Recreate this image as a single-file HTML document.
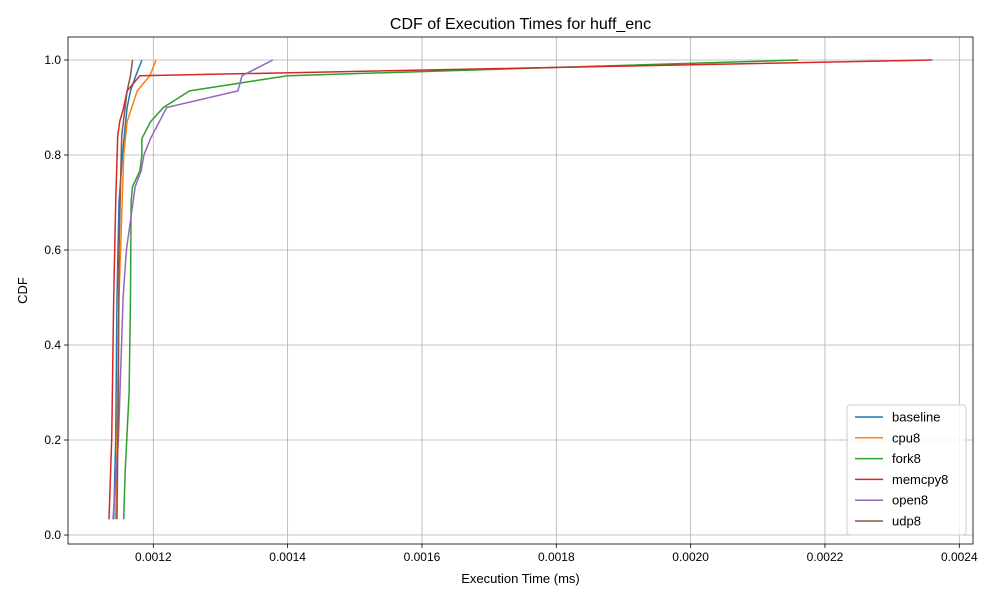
<!DOCTYPE html>
<html><head><meta charset="utf-8"><style>
body{margin:0;background:#fff;font-family:"Liberation Sans","DejaVu Sans",sans-serif}
</style></head><body>
<svg id="chart" width="1000" height="600" xmlns="http://www.w3.org/2000/svg"></svg>
<script>
const seriesNames=["baseline","cpu8","fork8","memcpy8","open8","udp8"];
const colors=["#1f77b4","#ff7f0e","#2ca02c","#d62728","#9467bd","#8c564b"];
const baselineX=[0.001141,0.001144,0.001146,0.001149,0.001154,0.001161,0.001166,0.001174,0.001183];
const baselineY=[0.033,0.2,0.5,0.7,0.8,0.9,0.935,0.967,1.0];
const cpu8X=[0.001144,0.001146,0.001149,0.001156,0.001161,0.001176,0.001195,0.001204];
const cpu8Y=[0.033,0.2,0.5,0.8,0.87,0.935,0.967,1.0];
const fork8X=[0.001156,0.001158,0.001164,0.001166,0.001167,0.001169,0.00118,0.001183,0.001183,0.001196,0.001215,0.001254,0.0014,0.00216];
const fork8Y=[0.033,0.13,0.3,0.5,0.7,0.733,0.767,0.8,0.835,0.87,0.9,0.935,0.967,1.0];
const memcpy8X=[0.001134,0.001138,0.001141,0.001144,0.001147,0.00115,0.001156,0.001161,0.00118,0.00236];
const memcpy8Y=[0.033,0.2,0.5,0.7,0.84,0.87,0.9,0.935,0.967,1.0];
const open8X=[0.00114,0.001148,0.001155,0.00116,0.001173,0.001182,0.001186,0.001196,0.00122,0.001326,0.001332,0.001378];
const open8Y=[0.033,0.2,0.5,0.6,0.733,0.767,0.8,0.835,0.9,0.935,0.967,1.0];
const udp8X=[0.001146,0.001148,0.001149,0.001153,0.001161,0.001166,0.001169];
const udp8Y=[0.033,0.3,0.6,0.84,0.935,0.967,1.0];
const allX=[baselineX,cpu8X,fork8X,memcpy8X,open8X,udp8X];
const allY=[baselineY,cpu8Y,fork8Y,memcpy8Y,open8Y,udp8Y];
const xTicks=[0.0012,0.0014,0.0016,0.0018,0.0020,0.0022,0.0024];
const xTickLabels=["0.0012","0.0014","0.0016","0.0018","0.0020","0.0022","0.0024"];
const yTicks=[0,0.2,0.4,0.6,0.8,1.0];
const yTickLabels=["0.0","0.2","0.4","0.6","0.8","1.0"];

const L=68,R=973,T=37,B=544;
const xmin=0.001073,xmax=0.0024204,ymin=-0.0189,ymax=1.0484;
const sx=v=>L+(v-xmin)/(xmax-xmin)*(R-L);
const sy=v=>B-(v-ymin)/(ymax-ymin)*(B-T);
const svg=document.getElementById('chart');
const NS="http://www.w3.org/2000/svg";
function mk(tag,attrs,parent){const e=document.createElementNS(NS,tag);for(const k in attrs)e.setAttribute(k,attrs[k]);(parent||svg).appendChild(e);return e;}
function txt(s,attrs){const e=mk('text',attrs);e.textContent=s;return e;}

xTicks.forEach((t,i)=>{const x=sx(t);
 const g=mk('line',{x1:x,x2:x,y1:T,y2:B,stroke:'#b0b0b0','stroke-width':0.8});
 
 
 mk('line',{x1:x,x2:x,y1:B,y2:B+4,stroke:'#000','stroke-width':0.8});
 const l=txt(xTickLabels[i],{x:x,y:B+17,'font-size':12,'text-anchor':'middle',fill:'#000'});
 
 
});
yTicks.forEach((t,i)=>{const y=sy(t);
 const g=mk('line',{x1:L,x2:R,y1:y,y2:y,stroke:'#b0b0b0','stroke-width':0.8});
 
 
 mk('line',{x1:L-4,x2:L,y1:y,y2:y,stroke:'#000','stroke-width':0.8});
 const l=txt(yTickLabels[i],{x:L-7,y:y+4,'font-size':12,'text-anchor':'end',fill:'#000'});
 
 
});
allX.forEach((xs,i)=>{
 const pts=xs.map((v,j)=>sx(v).toFixed(1)+','+sy(allY[i][j]).toFixed(1)).join(' ');
 const p=mk('polyline',{points:pts,fill:'none',stroke:colors[i],'stroke-width':1.5});
 
 
});
const frame=mk('rect',{x:L,y:T,width:R-L,height:B-T,fill:'none',stroke:'#000','stroke-width':0.8});


const title=txt('CDF of Execution Times for huff_enc',{x:(L+R)/2,y:29,'font-size':16,'text-anchor':'middle'});


const xt=txt('Execution Time (ms)',{x:(L+R)/2,y:583,'font-size':13,'text-anchor':'middle'});


const yt=txt('CDF',{x:27,y:(T+B)/2,'font-size':13,'text-anchor':'middle',transform:'rotate(-90 27 '+(T+B)/2+')'});


const lg=mk('rect',{x:847,y:405,width:119,height:130,rx:3,fill:'#fff','fill-opacity':0.8,stroke:'#ccc'});


seriesNames.forEach((n,i)=>{const y=417+i*20.8;
 const ln=mk('line',{x1:855,x2:883,y1:y,y2:y,stroke:colors[i],'stroke-width':1.5});
 
 
 const t=txt(n,{x:892,y:y+4.5,'font-size':13});
 
 
});
</script>
</body></html>
